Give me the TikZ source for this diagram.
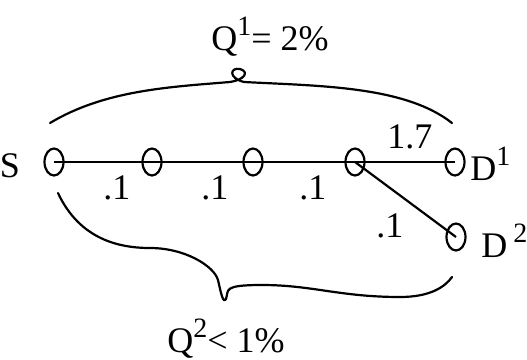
\documentclass[tikz,border=0pt]{standalone}
\usepackage{fontspec}
\setmainfont{Liberation Serif}
\usetikzlibrary{shapes.geometric}
\tikzset{
  hop/.style={draw, ellipse, line width=1.1pt, minimum width=9.5pt, minimum height=13.5pt, inner sep=0pt},
  lbl/.style={inner sep=0pt, font=\fontsize{18}{21}\selectfont},
  brace/.style={line width=1.1pt, line cap=round, line join=round}
}
\newcommand{\upidx}[1]{\raisebox{0.42em}{\fontsize{14}{16}\selectfont #1}}
\begin{document}
\begin{tikzpicture}[x=0.5pt, y=-0.5pt]
% page frame, pixel grid 527 x 360
\useasboundingbox (0,0) rectangle (527,360);
% hops along the path
\node[hop] (s) at (54,162) {};
\node[hop] (n1) at (152,162) {};
\node[hop] (n2) at (253,162) {};
\node[hop] (n3) at (355,162) {};
\node[hop] (d1) at (455,162) {};
\node[hop] (d2) at (456,237) {};
% links
\begin{scope}[line width=1.1pt]
  \draw (s.center) -- (n1.center);
  \draw (n1.center) -- (n2.center);
  \draw (n2.center) -- (n3.center);
  \draw (n3.center) -- (d1.center);
  \draw (n3.center) -- (d2.center);
\end{scope}
% names and weights
\node[lbl] (sname) at (10,166) {S};
\node[lbl, anchor=west] (d1name) at (470,164) {D\upidx{1}};
\node[lbl, anchor=west] (d2name) at (481,241) {D\,\upidx{2}};
\node[lbl] (w1) at (117,188) {.1};
\node[lbl] (w2) at (215,188) {.1};
\node[lbl] (w3) at (313,188) {.1};
\node[lbl] (w4) at (390,226) {.1};
\node[lbl] (w5) at (410,137) {1.7};
% braces with their shares
\node[lbl] (q1) at (270,37) {Q\upidx{1}= 2\%};
\node[lbl] (q2) at (226,339) {Q\upidx{2}< 1\%};
\draw[brace] (50,123) .. controls (105,90) and (170,87) .. (230,82)
  .. controls (244,80) and (250,72) .. (240,69)
  .. controls (230,67) and (228,78) .. (244,82)
  .. controls (320,86) and (405,86) .. (452,123);
\draw[brace] (58,193) .. controls (80,240) and (120,248) .. (150,248)
  .. controls (185,248) and (214,266) .. (218,280)
  .. controls (221,293) and (223,304) .. (226,299)
  .. controls (229,290) and (222,285) .. (262,285)
  .. controls (312,285) and (340,297) .. (400,297)
  .. controls (430,297) and (445,287) .. (452,277);
\end{tikzpicture}
\end{document}
